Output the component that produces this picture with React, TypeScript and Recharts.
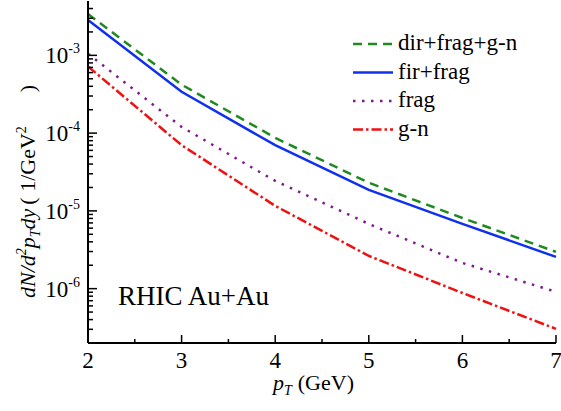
import React from "react";
import { LineChart, Line, XAxis, YAxis, Legend } from "recharts";

// pT points (GeV) and the four yield curves
const ptValues = [2, 3, 4, 5, 6, 7];
const dirFragGn = [3.4e-3, 4.2e-4, 8.7e-5, 2.3e-5, 8.1e-6, 2.97e-6];
const firFrag = [2.85e-3, 3.4e-4, 7.0e-5, 1.86e-5, 6.8e-6, 2.56e-6];
const fragOnly = [1.05e-3, 1.2e-4, 2.43e-5, 6.8e-6, 2.14e-6, 9.1e-7];
const gnOnly = [7.2e-4, 7.0e-5, 1.16e-5, 2.64e-6, 8.8e-7, 3.04e-7];

const xTicks = [2, 2.5, 3, 3.5, 4, 4.5, 5, 5.5, 6, 6.5, 7];
const xMajor = [2, 3, 4, 5, 6, 7];
const yMajorExp = [-6, -5, -4, -3];
const yMinorMult = [2, 3, 4, 5, 6, 7, 8, 9];
const yDomain = [2e-7, 5e-3];

const yTicks: number[] = [];
[-7, -6, -5, -4, -3].forEach((e) => {
  if (e > -7) yTicks.push(Math.pow(10, e));
  yMinorMult.forEach((m) => {
    const v = m * Math.pow(10, e);
    if (v > yDomain[0] * 1.01 && v < yDomain[1]) yTicks.push(v);
  });
});

const data = ptValues.map((pt, i) => ({
  pt,
  dir: dirFragGn[i],
  fir: firFrag[i],
  frag: fragOnly[i],
  gn: gnOnly[i],
}));

const series = [
  { key: "dir", name: "dir+frag+g-n", color: "#1f8a1f", dash: "9 6" },
  { key: "fir", name: "fir+frag", color: "#1030f0", dash: undefined },
  { key: "frag", name: "frag", color: "#80188f", dash: "2.5 6.5" },
  { key: "gn", name: "g-n", color: "#f01010", dash: "10 3 2.5 3" },
];

const FONT = "'Liberation Serif', 'Times New Roman', Times, serif";
const serif = { fontFamily: FONT };

const majorExpOf = (v: number) => {
  const e = Math.round(Math.log10(v));
  return yMajorExp.includes(e) && Math.abs(v / Math.pow(10, e) - 1) < 1e-6 ? e : null;
};
const isXMajor = (v: number) => xMajor.some((m) => Math.abs(v - m) < 1e-9);

const LeftTick = (props: any) => {
  const { x, y, payload } = props;
  const e = majorExpOf(payload.value);
  return (
    <g>
      <line x1={x} x2={x + (e !== null ? 9 : 5)} y1={y} y2={y} stroke="#000" strokeWidth={1.5} />
      {e !== null && (
        <text x={x - 8} y={y + 8} textAnchor="end" style={serif} fontSize={23} fill="#000">
          10
          <tspan dy={-10} fontSize={14}>{`-${-e}`}</tspan>
        </text>
      )}
    </g>
  );
};

const RightTick = (props: any) => {
  const { x, y, payload } = props;
  const e = majorExpOf(payload.value);
  return <line x1={x} x2={x - (e !== null ? 9 : 5)} y1={y} y2={y} stroke="#000" strokeWidth={1.5} />;
};

const BottomTick = (props: any) => {
  const { x, y, payload } = props;
  const major = isXMajor(payload.value);
  return (
    <g>
      <line x1={x} x2={x} y1={y} y2={y - (major ? 8 : 4)} stroke="#000" strokeWidth={1.5} />
      {major && (
        <text x={x} y={y + 25} textAnchor="middle" style={serif} fontSize={23} fill="#000">
          {payload.value}
        </text>
      )}
    </g>
  );
};

const TopTick = (props: any) => {
  const { x, y, payload } = props;
  const major = isXMajor(payload.value);
  return <line x1={x} x2={x} y1={y} y2={y + (major ? 8 : 4)} stroke="#000" strokeWidth={1.5} />;
};

const LegendBox = () => (
  <svg width={190} height={120} style={{ display: "block" }}>
    {series.map((s, i) => {
      const ry = 16 + i * 28.5;
      return (
        <g key={s.key}>
          <line x1={3} x2={43} y1={ry} y2={ry} stroke={s.color} strokeWidth={2.5} strokeDasharray={s.dash} />
          <text x={48} y={ry + 6} style={serif} fontSize={23} fill="#000">
            {s.name}
          </text>
        </g>
      );
    })}
  </svg>
);

export default function App() {
  return (
    <div style={{ position: "absolute", left: 0, top: 0, width: 561, height: 411, background: "#fff", fontFamily: FONT }}>
      <LineChart width={561} height={411} data={data} margin={{ top: 1, right: 5, bottom: 0, left: 0 }}>
        <XAxis
          xAxisId="bottom"
          dataKey="pt"
          type="number"
          domain={[2, 7]}
          ticks={xTicks}
          interval={0}
          height={68}
          tickSize={0}
          tickMargin={0}
          tickLine={false}
          axisLine={{ stroke: "#000", strokeWidth: 2 }}
          tick={<BottomTick />}
        />
        <XAxis
          xAxisId="top"
          orientation="top"
          dataKey="pt"
          type="number"
          domain={[2, 7]}
          ticks={xTicks}
          interval={0}
          height={0}
          tickSize={0}
          tickMargin={0}
          tickLine={false}
          axisLine={{ stroke: "#000", strokeWidth: 2 }}
          tick={<TopTick />}
        />
        <YAxis
          yAxisId="left"
          scale="log"
          type="number"
          domain={yDomain}
          allowDataOverflow
          ticks={yTicks}
          interval={0}
          width={88}
          tickSize={0}
          tickMargin={0}
          tickLine={false}
          axisLine={{ stroke: "#000", strokeWidth: 2 }}
          tick={<LeftTick />}
        />
        <YAxis
          yAxisId="right"
          orientation="right"
          scale="log"
          type="number"
          domain={yDomain}
          allowDataOverflow
          ticks={yTicks}
          interval={0}
          width={0}
          tickSize={0}
          tickMargin={0}
          tickLine={false}
          axisLine={{ stroke: "#000", strokeWidth: 2 }}
          tick={<RightTick />}
        />
        {series.map((s) => (
          <Line
            key={s.key}
            xAxisId="bottom"
            yAxisId="left"
            type="linear"
            dataKey={s.key}
            name={s.name}
            stroke={s.color}
            strokeWidth={2.5}
            strokeDasharray={s.dash}
            dot={false}
            isAnimationActive={false}
          />
        ))}
        <Legend
          layout="vertical"
          align="center"
          verticalAlign="middle"
          content={<LegendBox />}
          wrapperStyle={{ left: 350, top: 28, width: 190, height: 120 }}
        />
      </LineChart>
      <svg
        width={561}
        height={411}
        style={{ position: "absolute", left: 0, top: 0, pointerEvents: "none", fontFamily: FONT }}
        fill="#000"
      >
        <text x={118} y={305} fontSize={27}>
          RHIC Au+Au
        </text>
        <text x={273} y={390} fontSize={22}>
          <tspan fontStyle="italic">p</tspan>
          <tspan fontStyle="italic" fontSize={14} dy={5}>T</tspan>
          <tspan dy={-5} dx={6}>(GeV)</tspan>
        </text>
        <text transform="translate(35,298) rotate(-90)" fontSize={22}>
          <tspan fontStyle="italic">dN/d</tspan>
          <tspan fontStyle="italic" fontSize={14} dy={-9}>2</tspan>
          <tspan fontStyle="italic" dy={9}>p</tspan>
          <tspan fontStyle="italic" fontSize={14} dy={5}>T</tspan>
          <tspan fontStyle="italic" dy={-5}>dy</tspan>
          <tspan dx={4}>( 1/GeV</tspan>
          <tspan fontSize={14} dy={-9}>2</tspan>
          <tspan dy={9} dx={34}>)</tspan>
        </text>
      </svg>
    </div>
  );
}
